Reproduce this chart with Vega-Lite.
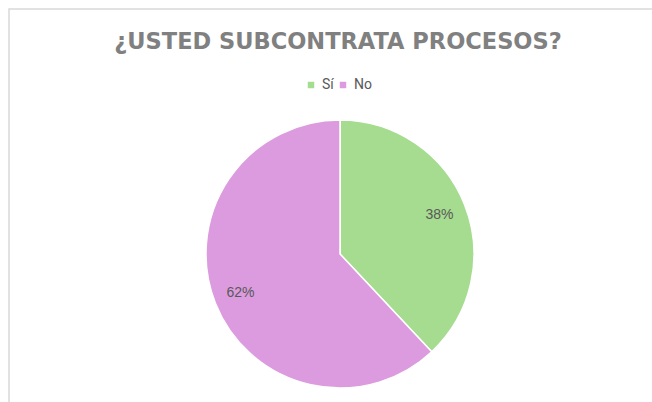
{
  "$schema": "https://vega.github.io/schema/vega-lite/v6.json",
  "width": 662,
  "height": 490,
  "autosize": {"type": "none"},
  "padding": {"left": 9, "top": 9, "right": 0, "bottom": 0},
  "background": "white",
  "title": {
    "text": "¿USTED SUBCONTRATA PROCESOS?",
    "anchor": "middle",
    "font": "DejaVu Sans",
    "fontSize": 22.5,
    "fontWeight": "bold",
    "color": "#808080",
    "baseline": "alphabetic",
    "dy": 67,
    "dx": -2
  },
  "config": {
    "view": {"stroke": null}
  },
  "data": {
    "values": [
      {"respuesta": "Sí", "valor": 38, "orden": 1, "etiqueta": "38%"},
      {"respuesta": "No", "valor": 62, "orden": 2, "etiqueta": "62%"}
    ]
  },
  "layer": [
    {
      "data": {"values": [{"marco": 1}]},
      "mark": {"type": "rect", "fill": "white", "stroke": "#d9d9d9", "strokeWidth": 1.5},
      "encoding": {}
    },
    {
      "mark": {"type": "arc", "radius": 134, "stroke": "white", "strokeWidth": 1.5},
      "encoding": {
        "theta": {"field": "valor", "type": "quantitative", "stack": true},
        "order": {"field": "orden", "type": "quantitative"},
        "color": {
          "field": "respuesta",
          "type": "nominal",
          "scale": {"domain": ["Sí", "No"], "range": ["#a5dc8f", "#dc9bdf"]},
          "legend": {
            "orient": "none",
            "direction": "horizontal",
            "legendX": 295,
            "legendY": 69,
            "title": null,
            "symbolType": "square",
            "symbolSize": 42,
            "symbolStrokeWidth": 0,
            "labelFont": "Roboto",
            "labelFontSize": 14,
            "labelColor": "#595959",
            "columnPadding": 2,
            "encode": {
              "symbols": {
                "update": {
                  "fill": {"signal": "datum.value === 'Sí' ? '#6cc04a' : '#b454b8'"}
                }
              }
            }
          }
        }
      }
    },
    {
      "mark": {"type": "text", "radius": 107, "font": "Liberation Sans", "fontSize": 14, "color": "#595959"},
      "encoding": {
        "theta": {"field": "valor", "type": "quantitative", "stack": true},
        "order": {"field": "orden", "type": "quantitative"},
        "text": {"field": "etiqueta"}
      }
    }
  ]
}
